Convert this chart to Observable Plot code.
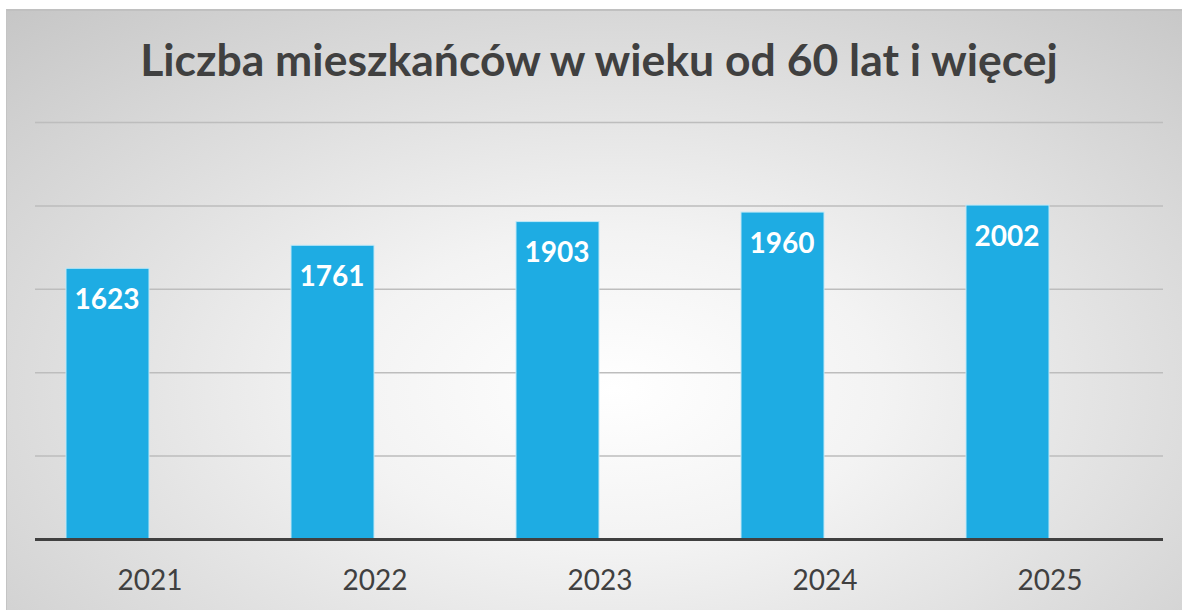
<!DOCTYPE html>
<html>
<head>
<meta charset="utf-8">
<script src="https://cdn.jsdelivr.net/npm/d3@7"></script>
<script src="https://cdn.jsdelivr.net/npm/@observablehq/plot@0.6"></script>
<style>
  html, body { margin: 0; padding: 0; background: #ffffff; width: 1182px; height: 610px; overflow: hidden; }
  #frame {
    position: absolute; left: 6px; top: 9px; width: 1190px; height: 610px;
    border-top: 2px solid #c0c0c0; border-left: 1px solid #c4c4c4;
    background: radial-gradient(ellipse 75% 85% at 51% 62%, #ffffff 0%, #f3f3f3 30%, #c6c6c6 100%);
  }
  #title {
    position: absolute; left: 0; top: 37px; width: 1198px; text-align: center;
    font-family: Lato, "Open Sans", sans-serif; font-weight: 700; font-size: 44.5px;
    color: #404040; line-height: 1;
  }
  #chart { position: absolute; left: 0; top: 0; }
</style>
</head>
<body>
<div id="frame"></div>
<div id="title">Liczba mieszkańców w wieku od 60 lat i więcej</div>
<div id="chart"></div>
<script>
const years = ["2021", "2022", "2023", "2024", "2025"];
const values = [1623, 1761, 1903, 1960, 2002];
const yTicks = [500, 1000, 1500, 2000, 2500];

const data = years.map((y, i) => ({year: y, value: values[i]}));

const chart = Plot.plot({
  width: 1182,
  height: 610,
  marginLeft: 35,
  marginRight: 19,
  marginTop: 122,
  marginBottom: 71,
  style: {background: "transparent", fontFamily: "Lato, 'Open Sans', sans-serif"},
  x: {type: "band", domain: years, padding: 0},
  y: {domain: [0, 2500]},
  marks: [
    Plot.gridY(yTicks, {stroke: "#bdbdbd", strokeOpacity: 1, strokeWidth: 1.5}),
    Plot.barY(data, {x: "year", y: "value", fill: "#1eace3", stroke: "#bfe8f7", strokeWidth: 1, insetLeft: 29, insetRight: 113}),
    Plot.ruleY([0], {stroke: "#404040", strokeWidth: 3}),
    Plot.text(data, {x: "year", y: "value", text: d => String(d.value), dx: -43, dy: 31, fill: "white", fontSize: 28, fontWeight: "bold"}),
    Plot.axisX({tickSize: 0, tickPadding: 31, fontSize: 28, color: "#404040", label: null}),
    Plot.axisY({ticks: [], label: null})
  ]
});
document.getElementById("chart").appendChild(chart);
</script>
</body>
</html>
